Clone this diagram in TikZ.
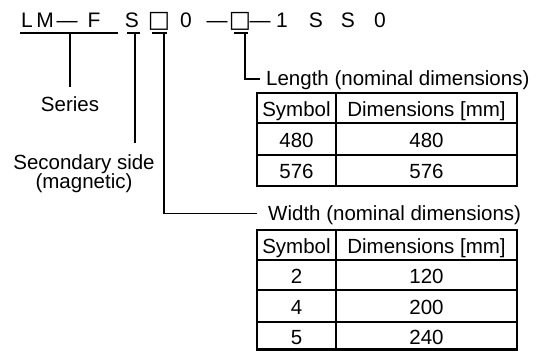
\documentclass[tikz,border=0pt]{standalone}
\usepackage{fontspec}
\setmainfont{Liberation Sans}
\newfontfamily\symfont{DejaVu Sans}
\begin{document}
\begin{tikzpicture}[x=1pt,y=-1pt,
  code/.style={font=\fontsize{21}{24}\selectfont, anchor=base, inner sep=0pt},
  sqchar/.style={font=\fontsize{23.5}{26}\symfont, anchor=base, inner sep=0pt},
  lbl/.style={font=\fontsize{20.5}{19.5}\selectfont, anchor=base, inner sep=0pt},
  cell/.style={font=\fontsize{20.5}{24}\selectfont, anchor=base, inner sep=0pt},
  conn/.style={line width=1.8pt},
  frame/.style={line width=2.6pt},
  rule/.style={line width=2.2pt}]
\useasboundingbox (0,0) rectangle (542,351);

\foreach \x/\ch [count=\i] in {27/L,45/M,67/—,94/F,132/S,186/0,217/—,260/—,282/1,316/S,348/S,380/0}
  \node[code] (c\i) at (\x,27) {\ch};
\node[sqchar] (sq1) at (159,27.5) {□};
\node[sqchar] (sq2) at (240,27.5) {□};

\draw[conn] (20,33) -- (118,33);
\draw[conn] (127,33) -- (140,33);
\draw[conn] (152,33) -- (167,33);
\draw[conn] (234,33) -- (248,33);

\coordinate (ser) at (70,33);
\coordinate (serend) at (70,87);
\coordinate (sec) at (135,33);
\coordinate (secend) at (135,143);
\coordinate (wid) at (164,33);
\coordinate (widend) at (257,213.5);
\coordinate (len) at (245,33);
\coordinate (lenend) at (260,79);

\draw[conn] (ser) -- (serend);
\draw[conn] (sec) -- (secend);
\draw[conn] (wid) |- (widend);
\draw[conn] (len) |- (lenend);

\node[lbl] (series) at (70,111) {Series};
\node[lbl, align=center] (second) at (84,188.5) {Secondary side\\(magnetic)};
\node[lbl, anchor=base west] (length) at (266,85) {Length (nominal dimensions)};
\node[lbl, anchor=base west] (width) at (268,220.5) {Width (nominal dimensions)};

\draw[frame] (257,93) rectangle (517,186);
\foreach \y in {123,155} \draw[rule] (257,\y) -- (517,\y);
\draw[rule] (336,93) -- (336,186);
\node[cell] (lenh1) at (296.5,116) {Symbol};
\node[cell] (lenh2) at (426.5,116) {Dimensions [mm]};
\foreach \y/\a/\b [count=\i] in {147/480/480,178.5/576/576} {
  \node[cell] (lena\i) at (296.5,\y) {\a};
  \node[cell] (lenb\i) at (426.5,\y) {\b};
}

\draw[frame] (257,230) rectangle (517,349.7);
\foreach \y in {260,290,322} \draw[rule] (257,\y) -- (517,\y);
\draw[rule] (336,230) -- (336,349.7);
\node[cell] (widh1) at (296.5,253) {Symbol};
\node[cell] (widh2) at (426.5,253) {Dimensions [mm]};
\foreach \y/\a/\b [count=\i] in {283/2/120,314/4/200,344/5/240} {
  \node[cell] (wida\i) at (296.5,\y) {\a};
  \node[cell] (widb\i) at (426.5,\y) {\b};
}
\end{tikzpicture}
\end{document}
